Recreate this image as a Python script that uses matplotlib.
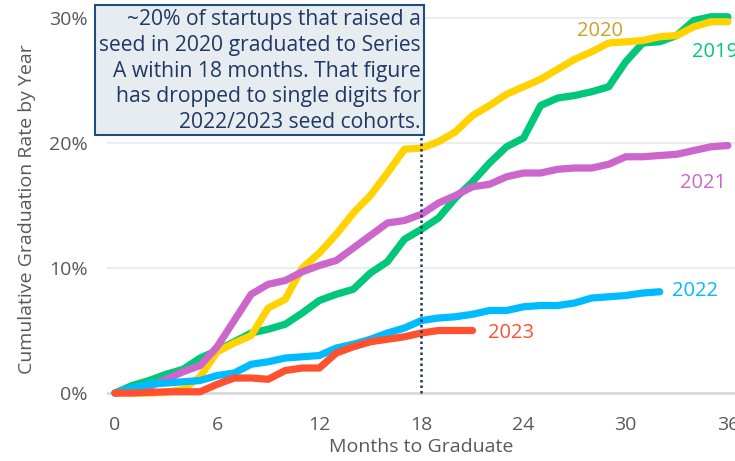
import matplotlib.pyplot as plt
from matplotlib.patches import Rectangle

# months since seed round
months = list(range(37))

# cumulative graduation rate (%) per seed cohort
y2019 = [0, 0.6, 1.0, 1.5, 1.9, 2.8, 3.4, 4.1, 4.8, 5.1, 5.5, 6.4, 7.4, 7.9, 8.3, 9.6,
         10.5, 12.3, 13.1, 14.0, 15.6, 16.9, 18.4, 19.7, 20.4, 23.0, 23.6, 23.8, 24.1,
         24.5, 26.5, 28.0, 28.1, 28.6, 29.8, 30.1, 30.1]
y2020 = [0, 0, 0, 0.05, 0.3, 1.3, 3.3, 4.0, 4.6, 6.8, 7.5, 10.0, 11.2, 12.7, 14.4, 15.8,
         17.6, 19.5, 19.6, 20.1, 20.9, 22.2, 23.0, 23.9, 24.5, 25.1, 25.9, 26.7, 27.3,
         28.0, 28.1, 28.2, 28.5, 28.6, 29.3, 29.7, 29.7]
y2021 = [0, 0.2, 0.5, 1.1, 1.7, 2.2, 3.7, 5.8, 7.9, 8.7, 9.0, 9.7, 10.2, 10.6, 11.6, 12.6,
         13.6, 13.8, 14.3, 15.2, 15.8, 16.5, 16.7, 17.3, 17.6, 17.6, 17.9, 18.0, 18.0,
         18.3, 18.9, 18.9, 19.0, 19.1, 19.4, 19.7, 19.8]
y2022 = [0, 0.4, 0.7, 0.8, 0.9, 1.0, 1.4, 1.6, 2.3, 2.5, 2.8, 2.9, 3.0, 3.6, 3.9, 4.3,
         4.8, 5.2, 5.8, 6.0, 6.1, 6.3, 6.6, 6.6, 6.9, 7.0, 7.0, 7.2, 7.6, 7.7, 7.8, 8.0, 8.1]
y2023 = [0, 0, 0.05, 0.1, 0.1, 0.1, 0.7, 1.2, 1.2, 1.1, 1.8, 2.0, 2.0, 3.2, 3.7, 4.1,
         4.3, 4.5, 4.8, 5.0, 5.0, 5.0]

note_lines = ['~20% of startups that raised a',
              'seed in 2020 graduated to Series',
              'A within 18 months. That figure',
              'has dropped to single digits for',
              '2022/2023 seed cohorts.']

plt.rcParams['font.family'] = ['Open Sans', 'DejaVu Sans']
gray = '#595959'
navy = '#1F3864'

fig = plt.figure(figsize=(7.35, 4.61), dpi=100)
ax = fig.add_axes([0.1456, 0.1312, 0.8558, 0.846])

# gridlines
for g in [10, 20, 30]:
    ax.axhline(g, color='#EDEDED', lw=1.5, zorder=0)
ax.axhline(0, color='#D9D9D9', lw=2, zorder=0)

# (label, data, line colour, label colour, label x, label y)
series = [
    ('2019', y2019, '#00C878', '#00C878', 33.9, 27.3),
    ('2020', y2020, '#FFD200', '#C9A227', 27.15, 29.0),
    ('2021', y2021, '#CC66CC', '#CC66CC', 33.2, 16.8),
    ('2022', y2022, '#00BBFF', '#00BBFF', 32.7, 8.2),
    ('2023', y2023, '#FF5030', '#FF5030', 21.9, 4.8),
]
for name, vals, c, lc, lx, ly in series:
    ax.plot(months[:len(vals)], vals, color=c, lw=5.2, solid_capstyle='round',
            solid_joinstyle='round', zorder=3)
    ax.text(lx, ly, name, color=lc, fontsize=14.5, ha='left', va='center')

ax.set_xlim(-0.47, 36.48)
ax.set_ylim(-0.6, 30.6)
ax.set_xticks(range(0, 37, 6))
ax.set_yticks([0, 10, 20, 30])
ax.set_yticklabels(['0%', '10%', '20%', '30%'])
ax.tick_params(length=0, labelsize=14, labelcolor=gray)
ax.tick_params(axis='x', pad=11)
ax.tick_params(axis='y', pad=14)
for s in ax.spines.values():
    s.set_visible(False)
ax.set_xlabel('Months to Graduate', fontsize=14, color=gray)
ax.set_ylabel('Cumulative Graduation Rate by Year', fontsize=14, color=gray)
ax.xaxis.set_label_coords(0.5, -0.097)
ax.yaxis.set_label_coords(-0.113, 0.49)

# annotation box
fig.patches.append(Rectangle((95 / 735, 1 - 135 / 461), 329 / 735, 130 / 461,
                             transform=fig.transFigure, facecolor='#E7ECF1',
                             edgecolor='#1F4E79', lw=1.5, zorder=5))
for i, line in enumerate(note_lines):
    fig.text(421 / 735, 1 - (20 + 25.5 * i) / 461, line, ha='right', va='center',
             fontsize=15.2, color=navy, zorder=6)

# 18-month marker
ax.plot([18, 18], [0, 31.0], color=navy, lw=1.8, linestyle=(0, (1, 1.2)),
        clip_on=False, zorder=7)

fig.savefig('out.png', dpi=100)
